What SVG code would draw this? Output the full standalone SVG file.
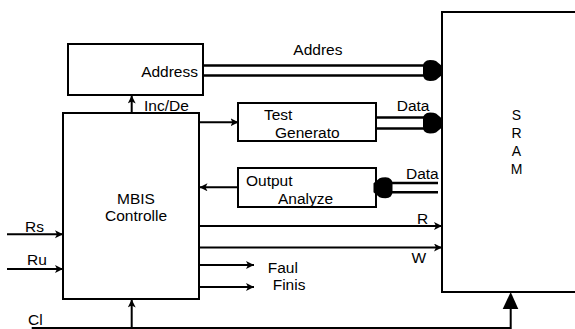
<svg xmlns="http://www.w3.org/2000/svg" width="575" height="329" viewBox="0 0 575 329">
  <style>
    .box { fill: #fff; stroke: #000; stroke-width: 2; }
    .wire { fill: none; stroke: #000; stroke-width: 2; }
    .bus { fill: none; stroke: #000; stroke-width: 2.6; }
    text { font-family: "Liberation Sans", Arial, sans-serif; font-size: 15.5px; fill: #000; }
    .sram { font-size: 14px; text-anchor: middle; }
  </style>
  <defs>
    <marker id="arr" markerUnits="userSpaceOnUse" markerWidth="10" markerHeight="10" refX="8" refY="4" orient="auto">
      <path d="M0,0 L8,4 L0,8 L2,4 Z" fill="#000"/>
    </marker>
    <!-- rounded bus arrowhead, tip at origin pointing right -->
    <path id="bullet" d="M0,-4.5 L-6,-9.5 Q-8,-10.5 -12,-10.5 Q-19,-10 -19,-4 L-19,4 Q-19,10 -12,10.5 Q-8,10.5 -6,9.5 L0,4.5 Z" fill="#000"/>
  </defs>

  <g id="sram">
    <rect class="box" x="442" y="12" width="150" height="280"/>
    <text class="sram" x="516.5" y="119.5">S</text>
    <text class="sram" x="516.5" y="137.8">R</text>
    <text class="sram" x="516.5" y="156.1">A</text>
    <text class="sram" x="516.5" y="174.4">M</text>
  </g>

  <g id="address">
    <rect class="box" x="68" y="44" width="135" height="51"/>
    <text x="198" y="76.7" text-anchor="end">Address</text>
  </g>

  <g id="controller">
    <rect class="box" x="63" y="113" width="136" height="186"/>
    <text x="136" y="204.3" text-anchor="middle">MBIS</text>
    <text x="136" y="220.7" text-anchor="middle">Controlle</text>
  </g>

  <g id="test-generator">
    <rect class="box" x="238" y="103" width="138" height="38"/>
    <text x="264" y="120">Test</text>
    <text x="275" y="137.7">Generato</text>
  </g>

  <g id="output-analyzer">
    <rect class="box" x="238" y="168" width="138" height="39"/>
    <text x="246" y="185.5">Output</text>
    <text x="278" y="203.5">Analyze</text>
  </g>

  <g id="connectors">
    <!-- address bus -->
    <line class="bus" x1="203" y1="65.5" x2="430" y2="65.5"/>
    <line class="bus" x1="203" y1="75.5" x2="430" y2="75.5"/>
    <use href="#bullet" transform="translate(442,70.5)"/>
    <text x="293.3" y="55">Addres</text>

    <!-- test data bus -->
    <line class="bus" x1="376" y1="117.5" x2="430" y2="117.5"/>
    <line class="bus" x1="376" y1="128.5" x2="430" y2="128.5"/>
    <use href="#bullet" transform="translate(442,123)"/>
    <text x="396.7" y="111">Data</text>

    <!-- read-back data bus -->
    <line class="bus" x1="385" y1="183" x2="438" y2="183"/>
    <line class="bus" x1="385" y1="192.3" x2="438" y2="192.3"/>
    <use href="#bullet" transform="translate(373.5,187.7) rotate(180)"/>
    <text x="406" y="179">Data</text>

    <!-- increment / decrement -->
    <line class="wire" x1="131.7" y1="113" x2="131.7" y2="95.5" marker-end="url(#arr)"/>
    <text x="144" y="111">Inc/De</text>

    <!-- controller to test generator -->
    <line class="wire" x1="199" y1="122.3" x2="238.5" y2="122.3" marker-end="url(#arr)"/>
    <!-- output analyzer to controller -->
    <line class="wire" x1="238" y1="187.3" x2="199.5" y2="187.3" marker-end="url(#arr)"/>

    <!-- read / write -->
    <line class="wire" x1="199" y1="226" x2="442" y2="226" marker-end="url(#arr)"/>
    <text x="417" y="224">R</text>
    <line class="wire" x1="199" y1="247.5" x2="442" y2="247.5" marker-end="url(#arr)"/>
    <text x="411.5" y="263.3">W</text>

    <!-- status outputs -->
    <line class="wire" x1="199" y1="265" x2="254" y2="265" marker-end="url(#arr)"/>
    <text x="267.7" y="272.7">Faul</text>
    <line class="wire" x1="199" y1="287" x2="254" y2="287" marker-end="url(#arr)"/>
    <text x="272.7" y="290">Finis</text>

    <!-- external inputs -->
    <line class="wire" x1="7" y1="234.3" x2="63" y2="234.3" marker-end="url(#arr)"/>
    <text x="25" y="231.5">Rs</text>
    <line class="wire" x1="7" y1="269" x2="63" y2="269" marker-end="url(#arr)"/>
    <text x="27" y="265">Ru</text>

    <!-- clock -->
    <polyline class="wire" points="31.7,328 510.7,328 510.7,308"/>
    <path d="M502.7,309 L518.3,309 L510.7,292 Z" fill="#000"/>
    <line class="wire" x1="131.7" y1="328" x2="131.7" y2="299.5" marker-end="url(#arr)"/>
    <text x="28" y="325">Cl</text>
  </g>
</svg>
